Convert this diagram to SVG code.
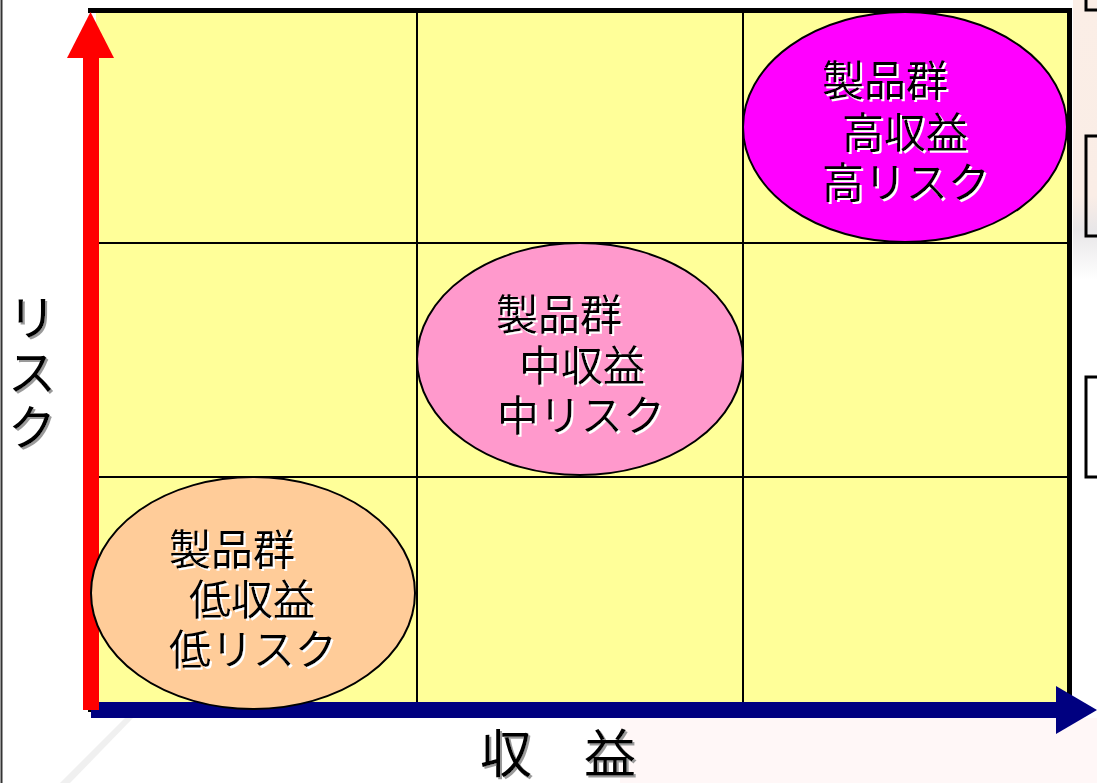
<svg xmlns="http://www.w3.org/2000/svg" width="1097" height="783" viewBox="0 0 1097 783">
  <style>
    .cell { fill: #FFFF99; }
    .grid { stroke: #000; stroke-width: 2; fill: none; }
    .border { stroke: #000; stroke-width: 5; fill: none; }
    .ell { stroke: #000; stroke-width: 2; }
    .lbl { font-family: "Noto Sans CJK JP", "Noto Sans", sans-serif; font-size: 42px; fill: #000; filter: url(#wsh); }
    .axis { font-family: "Noto Sans CJK JP", "Noto Sans", sans-serif; fill: #000; filter: url(#gsh); }
    .side { fill: none; stroke: #000; stroke-width: 3; }
  </style>
  <defs>
    <filter id="wsh" x="-10%" y="-10%" width="130%" height="130%">
      <feDropShadow dx="2" dy="2" stdDeviation="0.4" flood-color="#ffffff" flood-opacity="1"/>
    </filter>
    <filter id="gsh" x="-10%" y="-10%" width="130%" height="130%">
      <feDropShadow dx="2" dy="2" stdDeviation="0.5" flood-color="#9a9a9a" flood-opacity="1"/>
    </filter>
    <linearGradient id="smear" x1="0" y1="0" x2="0" y2="1">
      <stop offset="0" stop-color="#FBEEE6"/>
      <stop offset="0.7" stop-color="#FAEDE6"/>
      <stop offset="0.82" stop-color="#E8E6E8"/>
      <stop offset="1" stop-color="#FFFFFF"/>
    </linearGradient>
  </defs>

  <!-- background -->
  <rect x="0" y="0" width="1097" height="783" fill="#ffffff"/>
  <rect x="1073" y="0" width="24" height="280" fill="url(#smear)"/>
  <rect x="620" y="718" width="477" height="65" fill="#FFF7F7"/>
  <path d="M 60 783 L 125 718 L 133 718 L 70 783 Z" fill="#F0F0F0"/>
  <line x1="1.5" y1="0" x2="1.5" y2="783" stroke="#333" stroke-width="2"/>

  <!-- partial boxes at right edge -->
  <g id="side-boxes">
    <path class="side" d="M 1086 0 L 1086 10 L 1097 10"/>
    <path class="side" d="M 1097 136 L 1086 136 L 1086 236 L 1097 236"/>
    <path class="side" d="M 1097 377 L 1086 377 L 1086 477 L 1097 477"/>
  </g>

  <!-- matrix -->
  <g id="matrix">
    <rect class="cell" x="96" y="10" width="973" height="692"/>
    <line class="grid" x1="417" y1="10" x2="417" y2="702"/>
    <line class="grid" x1="743" y1="10" x2="743" y2="702"/>
    <line class="grid" x1="96" y1="243" x2="1069" y2="243"/>
    <line class="grid" x1="96" y1="477" x2="1069" y2="477"/>
    <line class="border" x1="88" y1="10.5" x2="1072" y2="10.5"/>
    <line class="border" x1="1069.5" y1="8" x2="1069.5" y2="702"/>
  </g>

  <!-- axes -->
  <g id="connectors">
    <rect x="91" y="702" width="968" height="16" fill="#000080"/>
    <polygon points="1056,686 1097,710 1056,734" fill="#000080"/>
    <rect x="88" y="708" width="3" height="4" fill="#000"/>
    <rect x="83" y="56" width="16" height="654" fill="#FF0000"/>
    <polygon points="90.5,12 114,58 67,58" fill="#FF0000"/>
  </g>

  <g id="node-low">
    <ellipse class="ell" cx="253" cy="593" rx="162" ry="116" fill="#FFCC99"/>
    <text class="lbl"><tspan x="169" y="565">製品群</tspan><tspan x="189" y="615">低収益</tspan><tspan x="169" y="665">低リスク</tspan></text>
  </g>

  <g id="node-mid">
    <ellipse class="ell" cx="580" cy="359" rx="163" ry="116" fill="#FF99CC"/>
    <text class="lbl"><tspan x="496" y="330">製品群</tspan><tspan x="519" y="381">中収益</tspan><tspan x="497" y="431">中リスク</tspan></text>
  </g>

  <g id="node-high">
    <ellipse class="ell" cx="905" cy="127" rx="162" ry="115" fill="#FF00FF"/>
    <text class="lbl"><tspan x="822" y="96">製品群</tspan><tspan x="842" y="148">高収益</tspan><tspan x="822" y="198">高リスク</tspan></text>
  </g>

  <g id="axis-labels">
    <text class="axis" font-size="48" text-anchor="middle"><tspan x="32" y="335">リ</tspan><tspan x="32" y="390">ス</tspan><tspan x="32" y="445">ク</tspan></text>
    <text class="axis" x="480" y="773" font-size="52">収　益</text>
  </g>
</svg>
